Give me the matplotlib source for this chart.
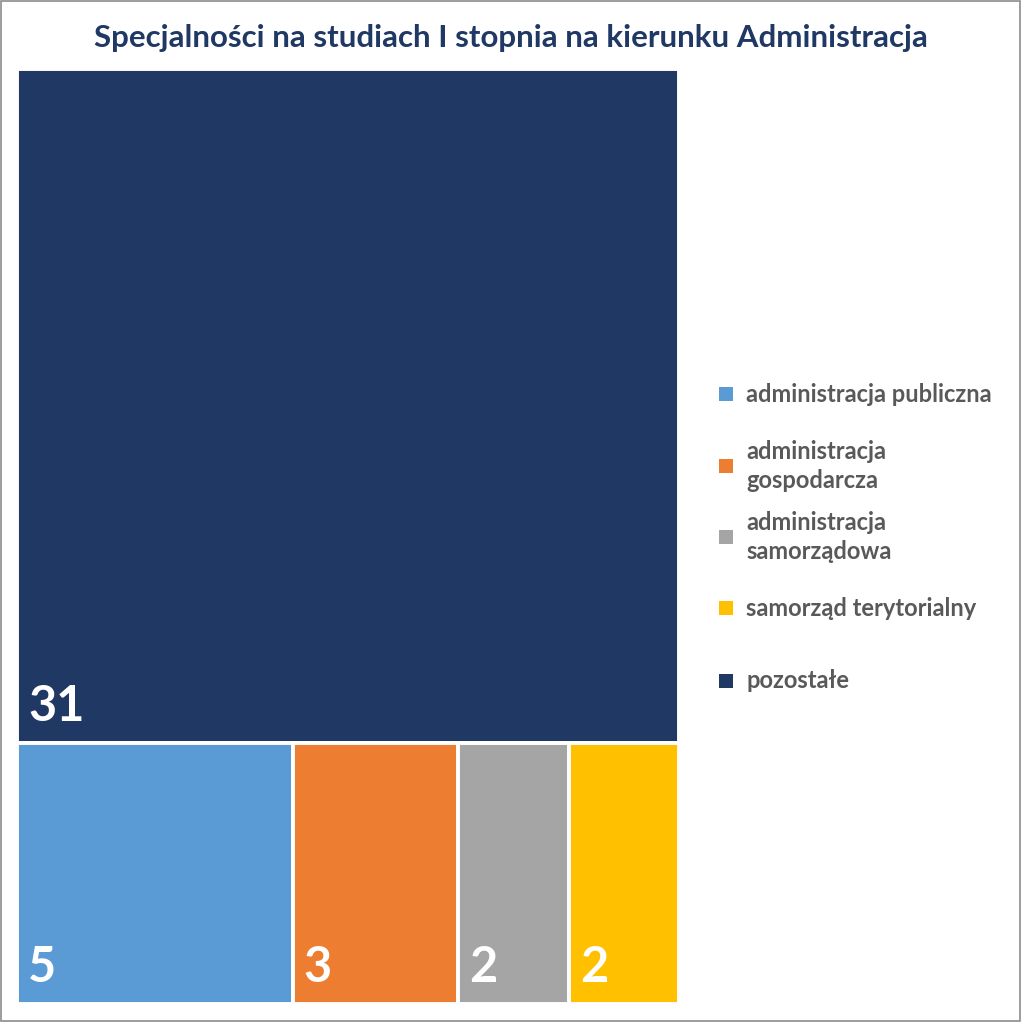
import matplotlib
matplotlib.use("Agg")
import matplotlib.pyplot as plt
from matplotlib.patches import Rectangle

title = "Specjalności na studiach I stopnia na kierunku Administracja"
categories = ["administracja publiczna", "administracja gospodarcza",
              "administracja samorządowa", "samorząd terytorialny", "pozostałe"]
legend_labels = ["administracja publiczna", "administracja\ngospodarcza",
                 "administracja\nsamorządowa", "samorząd terytorialny", "pozostałe"]
values = [5, 3, 2, 2, 31]
colors = ["#5B9BD5", "#ED7D31", "#A5A5A5", "#FFC000", "#203864"]

FONT = ["Lato", "DejaVu Sans"]
plt.rcParams["font.family"] = FONT

W = H = 1023
fig = plt.figure(figsize=(W / 100, H / 100), dpi=100)

# figure border
fig.patches.append(Rectangle((0.001, 0.002), 0.996, 0.997, transform=fig.transFigure,
                             fill=False, edgecolor="#8C8C8C", linewidth=1.2))

ax = fig.add_axes([17 / W, 1 - 1004 / H, 662 / W, 935 / H])
ax.set_xlim(0, 1)
ax.set_ylim(0, 1)
ax.axis("off")

total = sum(values)
# layout: largest item spans top, rest share bottom row
big = values.index(max(values))
big_h = values[big] / total
rest = [i for i in range(len(values)) if i != big]
rest_total = sum(values[i] for i in rest)

rects = {}
rects[big] = (0, 1 - big_h, 1, big_h)
x = 0
for i in rest:
    w = values[i] / rest_total
    rects[i] = (x, 0, w, 1 - big_h)
    x += w

for i, (x0, y0, w, h) in rects.items():
    ax.add_patch(Rectangle((x0, y0), w, h, facecolor=colors[i], edgecolor="white",
                           linewidth=2.8))
    ax.annotate(str(values[i]), xy=(x0, y0), xytext=(11, 22), textcoords="offset pixels",
                color="white", fontsize=35, fontweight="bold", ha="left", va="baseline")

fig.text(511 / W, 1 - 38 / H, title, ha="center", va="center", fontsize=22.5,
         fontweight="bold", color="#1F3864")

legend_y = [394, 466, 537, 608, 681]
for lab, c, yy in zip(legend_labels, colors, legend_y):
    fig.patches.append(Rectangle((719 / W, 1 - (yy + 7) / H), 14 / W, 14 / H,
                                 transform=fig.transFigure, facecolor=c, edgecolor="none"))
    fig.text(746 / W, 1 - yy / H, lab, ha="left", va="center", fontsize=17,
             fontweight="bold", color="#595959", linespacing=1.3)

fig.savefig("out.png", dpi=100)
